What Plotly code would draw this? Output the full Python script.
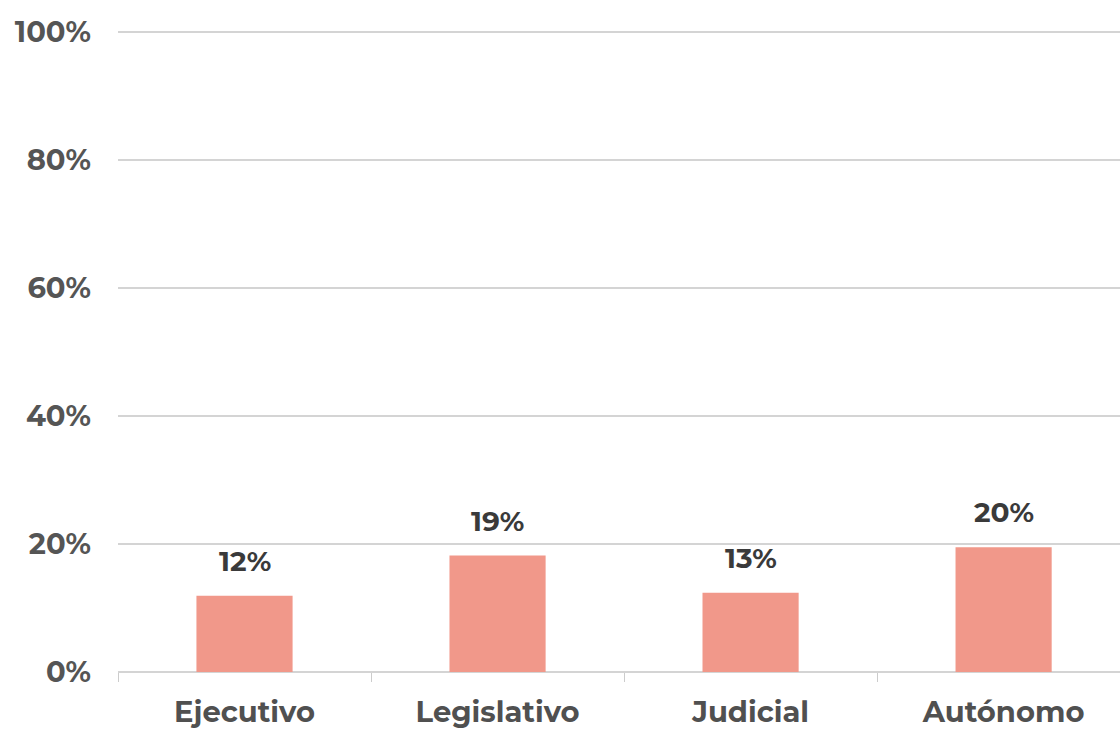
import plotly.graph_objects as go

categories = ["Ejecutivo", "Legislativo", "Judicial", "Autónomo"]
values = [11.9, 18.2, 12.4, 19.5]
labels = ["12%", "19%", "13%", "20%"]
y_ticks = [0, 20, 40, 60, 80, 100]
y_tick_text = ["0%", "20%", "40%", "60%", "80%", "100%"]

FONT = "Montserrat, 'Open Sans', Lato, sans-serif"

fig = go.Figure()
fig.add_trace(go.Bar(
    x=categories, y=values,
    marker=dict(color="#F1988A", line=dict(width=0)),
    width=0.38,
    hoverinfo="skip",
))

for c, v, t in zip(categories, values, labels):
    fig.add_annotation(
        x=c, y=v, text=f"<b>{t}</b>", showarrow=False,
        yanchor="middle", yshift=35,
        font=dict(family=FONT, size=28, color="#3a3a3a"),
    )

fig.update_layout(
    width=1120, height=729,
    margin=dict(l=118, r=0, t=30, b=57),
    paper_bgcolor="white", plot_bgcolor="white",
    showlegend=False,
    font=dict(family=FONT),
)
fig.update_xaxes(
    range=[-0.5, 3.46],
    tickson="boundaries", ticks="outside", ticklen=9, tickcolor="#cccccc",
    showgrid=False, showline=False, zeroline=False,
    tickfont=dict(family=FONT, size=29, color="#505050"),
    tickprefix="<b>", ticksuffix="</b>",
    ticklabelstandoff=20,
)
fig.update_yaxes(
    range=[0, 100.3],
    tickvals=y_ticks, ticktext=[f"<b>{t}</b>" for t in y_tick_text],
    showgrid=True, gridcolor="#d4d4d4", gridwidth=1.5,
    zeroline=True, zerolinecolor="#d4d4d4", zerolinewidth=1.5,
    showline=False, ticks="",
    tickfont=dict(family=FONT, size=29, color="#555555"),
    ticklabelstandoff=26,
)

fig.write_html(
    "out.html",
    config={"displayModeBar": False},
    post_script="document.body.style.margin='0';document.body.style.overflow='hidden';",
)
